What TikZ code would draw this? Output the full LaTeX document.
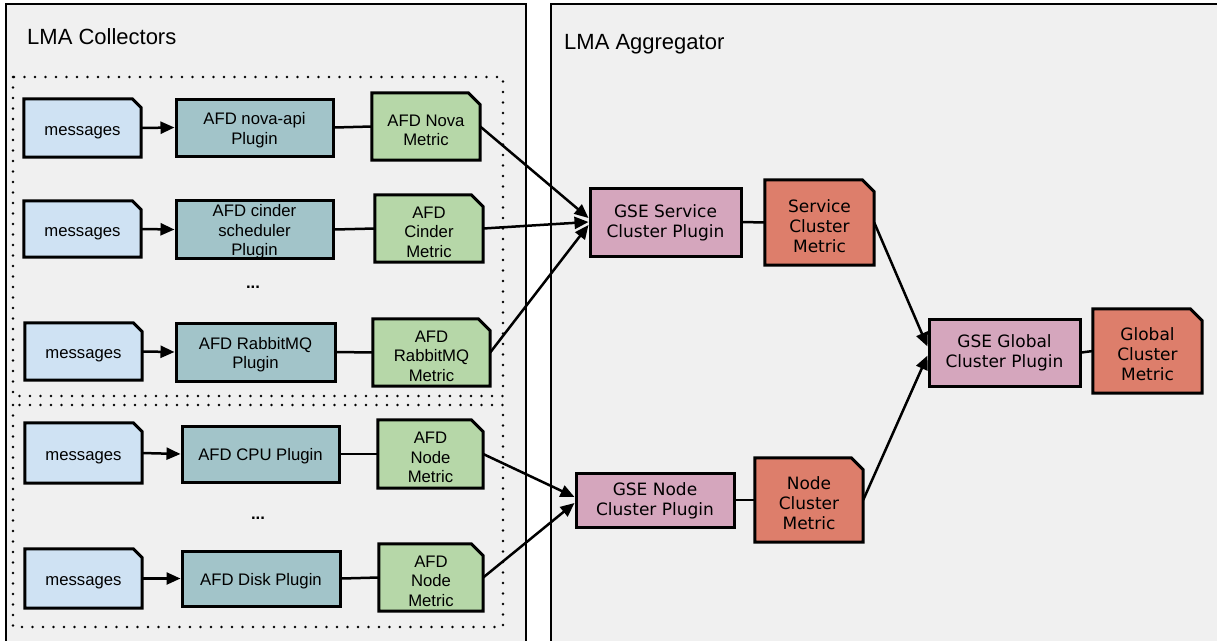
\documentclass[tikz,border=0pt]{standalone}
\usepackage{fontspec}
\setmainfont{Liberation Sans}
\newfontfamily\dejavu{DejaVu Sans}
\usetikzlibrary{arrows.meta,backgrounds}
\definecolor{msgc}{HTML}{CFE2F3}
\definecolor{plgc}{HTML}{A2C4C9}
\definecolor{afdm}{HTML}{B6D7A8}
\definecolor{gsep}{HTML}{D5A6BD}
\definecolor{gsem}{HTML}{DD7E6B}
\definecolor{panelc}{HTML}{F0F0F0}
\newcommand{\foldbox}[3]{%
  \filldraw[fill=#2, draw=black, line width=3pt, line join=miter]
    (#1.south west) -- (#1.north west) -- ([xshift=-#3pt]#1.north east)
    -- ([yshift=-#3pt]#1.north east) -- (#1.south east) -- cycle;}
\newcommand{\tx}[2]{\raisebox{-#1pt}[\height][\depth]{\begin{tabular}{@{}c@{}}#2\end{tabular}}}
\begin{document}
\begin{tikzpicture}[x=1pt,y=-1pt,
  lt/.style={font=\fontsize{16.7}{19.5}\selectfont, inner sep=0pt, rectangle},
  rt/.style={font=\dejavu\fontsize{17}{20}\selectfont, inner sep=0pt, rectangle},
  sz/.style n args={2}{minimum width=#1pt, minimum height=#2pt},
  box/.style={draw=black, line width=3pt},
  conn/.style={line width=2.5pt},
  arr/.style={line width=2.5pt, -{Triangle[length=14pt,width=12pt]}},
  panel/.style={fill=panelc, draw=black, line width=2pt},
  dotbox/.style={draw=black, line width=2.7pt, line cap=round, dash pattern=on 0pt off 10.5pt},
  ttl/.style={font=\fontsize{22}{26}\selectfont, anchor=west, inner sep=0pt},
  dots/.style={font=\bfseries\fontsize{16.7}{19}\selectfont, inner sep=0pt}]
\useasboundingbox (0,0) rectangle (1217,640);

% titles
\node[ttl] (tc) at (27,37) {LMA Collectors};
\node[ttl] (ta) at (564,44) {LMA Aggregator};

% row 1
\node[lt, sz={117}{58}] (m1) at (82.5,128) {\tx{3.5}{messages}};
\node[lt, box, fill=plgc, sz={157}{57}] (p1) at (254.5,127.5) {\tx{3}{AFD nova-api\\Plugin}};
\node[lt, sz={108}{67}] (f1) at (426,126.5) {\tx{5.5}{AFD Nova\\Metric}};
% row 2
\node[lt, sz={117}{56}] (m2) at (82.5,229) {\tx{3.5}{messages}};
\node[lt, box, fill=plgc, sz={157}{57}] (p2) at (254.5,229.5) {\tx{2.6}{AFD cinder\\scheduler\\Plugin}};
\node[lt, sz={108}{67}] (f2) at (429,228.5) {\tx{5.5}{AFD\\Cinder\\Metric}};
\node[dots] (d1) at (253,287) {...};
% row 3
\node[lt, sz={117}{57}] (m3) at (83.5,351.5) {\tx{3.5}{messages}};
\node[lt, box, fill=plgc, sz={159}{58}] (p3) at (255.5,352) {\tx{3}{AFD RabbitMQ\\Plugin}};
\node[lt, sz={117}{67}] (f3) at (431.5,352.5) {\tx{5.5}{AFD\\RabbitMQ\\Metric}};
% row 4
\node[lt, sz={117}{60}] (m4) at (83.5,453) {\tx{3.5}{messages}};
\node[lt, box, fill=plgc, sz={157}{56}] (p4) at (260.5,454) {\tx{3}{AFD CPU Plugin}};
\node[lt, sz={105}{68}] (f4) at (430.5,454) {\tx{5.5}{AFD\\Node\\Metric}};
\node[dots] (d2) at (258,518) {...};
% row 5
\node[lt, sz={117}{59}] (m5) at (83.5,578.5) {\tx{3.5}{messages}};
\node[lt, box, fill=plgc, sz={158}{55}] (p5) at (261,578.5) {\tx{3}{AFD Disk Plugin}};
\node[lt, sz={104}{67}] (f5) at (431,577.5) {\tx{5.5}{AFD\\Node\\Metric}};

% aggregator
\node[rt, box, fill=gsep, sz={151}{68}] (gs) at (665.5,222) {\tx{1}{GSE Service\\Cluster Plugin}};
\node[rt, sz={109}{85}] (sm) at (819.5,222.5) {\tx{5.5}{Service\\Cluster\\Metric}};
\node[rt, box, fill=gsep, sz={151}{67}] (gg) at (1004.5,352.5) {\tx{1}{GSE Global\\Cluster Plugin}};
\node[rt, sz={109}{84}] (gm) at (1147.5,351) {\tx{5.5}{Global\\Cluster\\Metric}};
\node[rt, box, fill=gsep, sz={158}{54}] (gn) at (655,500) {\tx{1}{GSE Node\\Cluster Plugin}};
\node[rt, sz={108}{84}] (nm) at (809,500) {\tx{5.5}{Node\\Cluster\\Metric}};

\begin{scope}[on background layer]
  \draw[panel] (6,4) rectangle (526,660);
  \draw[panel] (551,4) rectangle (1240,660);
  \draw[dotbox] (13,77) rectangle (503,396);
  \draw[dotbox] (13,405) rectangle (503,627);
  \foldbox{m1}{msgc}{9}
  \foldbox{m2}{msgc}{9}
  \foldbox{m3}{msgc}{9}
  \foldbox{m4}{msgc}{9}
  \foldbox{m5}{msgc}{9}
  \foldbox{f1}{afdm}{12}
  \foldbox{f2}{afdm}{12}
  \foldbox{f3}{afdm}{12}
  \foldbox{f4}{afdm}{12}
  \foldbox{f5}{afdm}{12}
  \foldbox{sm}{gsem}{12}
  \foldbox{gm}{gsem}{12}
  \foldbox{nm}{gsem}{12}
\end{scope}

% connectors
\foreach \i in {1,...,5} {
  \draw[arr] (m\i.east) -- (p\i.west);
  \draw[conn] (p\i.east) -- (f\i.west);
}
\draw[arr] (f1.east) -- ([yshift=4pt]gs.west);
\draw[arr] (f2.east) -- (gs.west);
\draw[arr] (f3.east) -- ([yshift=-3pt]gs.west);
\draw[arr] (f4.east) -- ([yshift=3pt]gn.west);
\draw[arr] (f5.east) -- ([yshift=-3pt]gn.west);
\draw[conn] (gs.east) -- (sm.west);
\draw[conn] (gn.east) -- (nm.west);
\draw[conn] (gg.east) -- (gm.west);
\draw[arr] (sm.east) -- ([yshift=6pt]gg.west);
\draw[arr] (nm.east) -- ([yshift=-3pt]gg.west);
\end{tikzpicture}
\end{document}
